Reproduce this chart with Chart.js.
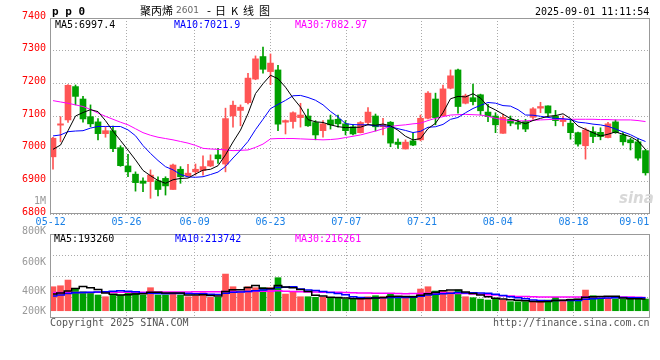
<!DOCTYPE html>
<html><head><meta charset="utf-8">
<script src="https://cdn.jsdelivr.net/npm/chart.js@4.4.1/dist/chart.umd.min.js"></script>
<style>
html,body{margin:0;padding:0;background:#fff;}
#wrap{position:relative;width:660px;height:360px;overflow:hidden;background:#fff;}
canvas{position:absolute;left:0;top:0;width:660px;height:360px;}
.t{position:absolute;white-space:pre;font-family:'DejaVu Sans Mono',monospace;font-size:10px;line-height:10px;z-index:5;}
.cjk{font-family:'Noto Sans CJK SC',sans-serif;font-size:11px;line-height:11px;}
.g{color:#999;text-align:right;width:40px;}
</style></head><body>
<div id="wrap">
<canvas id="price" width="660" height="360"></canvas>
<canvas id="vol" width="660" height="360"></canvas>
<div class="t" style="left:52px;top:6px;font-size:11px;line-height:11px;font-weight:bold;">p p 0</div>
<div class="t cjk" style="left:140px;top:5px;">聚丙烯</div>
<div class="t" style="left:176px;top:6px;font-family:'DejaVu Sans';font-size:9px;line-height:9px;color:#666;">2601</div>
<div class="t" style="left:207px;top:5px;font-family:'DejaVu Sans';font-size:11px;line-height:11px;">-</div>
<div class="t cjk" style="left:215px;top:5px;letter-spacing:5px;">日K线图</div>
<div class="t" style="left:535px;top:7px;">2025-09-01 11:11:54</div>
<div class="t" id="lg5" style="left:55px;top:19.5px;color:#000;"></div>
<div class="t" id="lg10" style="left:174px;top:19.5px;color:#0000ff;"></div>
<div class="t" id="lg30" style="left:295px;top:19.5px;color:#ff00ff;"></div>
<div class="t" id="vg5" style="left:54px;top:233.5px;color:#000;"></div>
<div class="t" id="vg10" style="left:175px;top:233.5px;color:#0000ff;"></div>
<div class="t" id="vg30" style="left:295px;top:233.5px;color:#ff00ff;"></div>
<div class="t g" style="left:6px;top:196px;">1M</div>
<div class="t g" style="left:6px;top:226px;">800K</div>
<div class="t g" style="left:6px;top:256.5px;">600K</div>
<div class="t g" style="left:6px;top:286px;">400K</div>
<div class="t g" style="left:6px;top:306px;">200K</div>
<div class="t" style="left:50px;top:317.5px;color:#555;">Copyright 2025 SINA.COM</div>
<div class="t" style="left:493px;top:317.5px;color:#555;">http://finance.sina.com.cn</div>
<div class="t" style="left:619px;top:191px;font-family:'DejaVu Sans';font-size:15px;line-height:15px;font-style:italic;font-weight:bold;color:#d8d8d8;">sina</div>
</div>
<script>
// ---------- data ----------
const dates = ['05-12','05-13','05-14','05-15','05-16','05-19','05-20','05-21','05-22','05-23','05-26','05-27','05-28','05-29','05-30',
'06-03','06-04','06-05','06-06','06-09','06-10','06-11','06-12','06-13','06-16','06-17','06-18','06-19','06-20','06-23','06-24','06-25','06-26','06-27','06-30',
'07-01','07-02','07-03','07-04','07-07','07-08','07-09','07-10','07-11','07-14','07-15','07-16','07-17','07-18','07-21','07-22','07-23','07-24','07-25','07-28','07-29','07-30','07-31',
'08-01','08-04','08-05','08-06','08-07','08-08','08-11','08-12','08-13','08-14','08-15','08-18','08-19','08-20','08-21','08-22','08-25','08-26','08-27','08-28','08-29','09-01'];
const open = [6975,7072,7088,7190,7152,7098,7082,7046,7055,7003, 6947,6922,6901,6899,6902,6909,6875,6937,6917,6929,
6933,6947,6981,6953,7100,7117,7141,7213,7282,7236, 7241,7081,7083,7095,7100,7080,7055,7088,7090,7076,
7067,7049,7080,7100,7067,7081,7020,6999,7024,7027, 7093,7152,7101,7185,7241,7139,7156,7165,7112,7100,
7047,7090,7080,7083,7096,7124,7131,7100,7083,7078, 7049,7009,7052,7050,7034,7082,7042,7027,7021,6994];
const high = [7035,7098,7196,7195,7160,7134,7092,7067,7069,7009, 6983,6929,6911,6935,6914,6914,6953,6945,6952,6953,
6978,6981,7001,7124,7146,7134,7231,7284,7311,7290, 7255,7088,7113,7139,7121,7086,7086,7103,7103,7086,
7073,7083,7126,7106,7093,7083,7030,7027,7047,7103, 7175,7170,7195,7241,7244,7167,7198,7167,7136,7110,
7106,7100,7090,7090,7126,7142,7131,7117,7100,7090, 7051,7063,7067,7064,7081,7088,7049,7032,7032,6998];
const low = [6937,7021,7080,7134,7081,7067,7027,7035,6991,6946, 6914,6870,6868,6848,6855,6858,6875,6894,6915,6919,
6919,6945,6955,6929,7066,7070,7137,7211,7231,7196, 7055,7045,7063,7066,7068,7027,7035,7060,7066,7042,
7042,7048,7073,7054,7042,7006,7001,6999,7009,7024, 7091,7073,7100,7183,7109,7137,7134,7103,7083,7049,
7047,7070,7060,7052,7090,7110,7101,7070,7070,7029, 7008,6968,7018,7027,7033,7047,7011,6996,6965,6919];
const close = [7032,7076,7194,7160,7091,7076,7046,7055,7000,6948, 6929,6896,6894,6919,6875,6886,6950,6914,6925,6937,
6945,6963,6969,7092,7133,7127,7216,7275,7243,7262, 7075,7086,7110,7103,7070,7042,7076,7073,7076,7055,
7045,7080,7112,7067,7073,7017,7013,7020,7011,7093, 7170,7095,7183,7223,7129,7162,7144,7116,7098,7073,
7096,7078,7075,7060,7122,7129,7109,7086,7088,7049, 7014,7057,7037,7037,7076,7049,7021,7018,6971,6926];
const ma5 = [6998,7011,7055,7100,7110.6,7119.4,7113.4,7085.6,7053.6,7025, 6995.6,6965.6,6933.4,6917.2,6902.6,6894,6904.8,6908.8,6910,6922.4,
6934.2,6936.8,6947.8,6981.2,7020.4,7056.8,7107.4,7168.6,7198.8,7224.6, 7214.2,7188.2,7155.2,7127.2,7088.8,7082.2,7080.2,7072.8,7067.4,7064.4,
7065,7065.8,7073.6,7071.8,7075.4,7069.8,7056.4,7038,7026.8,7030.8, 7061.4,7077.8,7110.4,7152.8,7160,7158.4,7168.2,7154.8,7129.8,7118.6,
7105.4,7092.2,7084,7076.4,7086.2,7092.8,7099,7101.2,7106.8,7092.2, 7069.2,7058.8,7049,7038.8,7044.2,7051.2,7044,7036.6,7023.4,6997.4];
const ma10 = [7039,7042,7052,7054,7055,7063,7068,7068,7068,7067.8, 7057.5,7039.5,7009.5,6985.4,6963.8,6944.8,6935.2,6921.1,6913.6,6912.5,
6914.1,6920.8,6928.3,6945.6,6971.4,6995.5,7022.1,7058.2,7090,7122.5, 7135.5,7147.8,7161.9,7163,7156.7,7148.2,7134.2,7114,7097.3,7076.6,
7073.6,7073,7073.2,7069.6,7069.9,7067.4,7061.1,7055.8,7049.3,7053.1, 7065.6,7067.1,7074.2,7089.8,7095.4,7109.9,7123,7132.6,7141.3,7139.3,
7131.9,7130.2,7119.4,7103.1,7102.4,7099.1,7095.6,7092.6,7091.6,7089.2, 7081,7078.9,7075.1,7072.8,7068.2,7060.2,7051.4,7042.8,7031.1,7021.9];
const ma30 = [7147,7143,7139,7134,7129,7120,7109,7099,7090,7081, 7073,7061,7049,7041,7035,7031,7027,7022,7017,7010,
7001,6999,6998,6996,6994,6995,6996,7004,7014,7030, 7031,7031,7031,7030,7029,7028,7027,7028,7030,7034,
7038,7042,7048,7054,7061,7068,7071,7073,7076,7078, 7086,7093,7098,7103,7104,7105,7104,7103,7099,7093,
7089,7086,7085,7085,7087,7088,7089,7090,7090,7090, 7090,7090,7090,7089,7089,7088,7088,7088,7086,7082.97];
// volume, thousand lots
const volume = [396,412,506,370,314,297,259,231,259,259, 314,314,259,380,259,259,297,259,231,242,
297,221,221,605,396,297,396,380,380,380, 545,275,314,231,231,221,221,205,205,192,
192,192,231,248,231,275,205,205,242,358, 396,325,325,314,341,231,215,192,176,205,
176,149,149,149,139,149,176,221,176,192, 192,341,248,205,205,195,190,188,200,193];
const volMa5 = [275,292,325,368,400,380,349,294,272,261, 264,275,281,305,305,294,291,291,261,258,
265,250,242,317,348,348,383,415,370,367, 416,392,379,349,319,254,244,222,217,209,
203,197,202,211,219,235,238,233,232,257, 281,305,329,344,340,307,285,259,231,204,
193,180,171,166,152,147,152,167,172,183, 191,224,230,236,238,239,209,197,196,193.26];
const volMa10 = [242,259,283,298,300,305,310,315,320,330, 322,312,288,289,283,279,283,286,283,281,
280,270,267,289,303,307,317,329,344,357, 382,388,397,359,343,335,318,300,283,264,
229,220,212,214,214,219,218,218,221,238, 258,272,281,288,299,294,295,294,287,272,
250,232,215,198,178,170,166,169,169,168, 169,188,198,204,211,215,217,213,216,213.742];
const volMa30 = [300,300,301,301,302,302,303,303,304,304, 305,305,306,306,307,308,309,310,311,312,
313,314,315,316,317,318,319,320,322,323, 328,323,317,312,310,307,306,305,303,301,
297,293,292,287,287,287,284,282,283,286, 290,293,297,287,285,283,277,271,264,258,
246,241,236,233,230,228,226,227,226,226, 226,231,231,230,229,226,226,225,224,216.261];
const tickDates = ['05-12','05-26','06-09','06-23','07-07','07-21','08-04','08-18','09-01'];
const priceMin = 6800, priceMax = 7400, priceStep = 100;

// ---------- style ----------
const RED = '#ff5555', GREEN = '#00a000';
const FONT = "'DejaVu Sans Mono', monospace";
const X_MIN = -0.4, X_MAX = 79.6;              // plot spans 600px, 7.5px per day
const gridPos = tickDates.map(d => -0.31 + 1.0104 * dates.indexOf(d));
const tickText = tickDates.map((d, k) => k === tickDates.length - 1 ? d + '     ' : d);
const candleColor = close.map((c, i) => c >= open[i] ? RED : GREEN);
const idx = dates.map((d, i) => i);

document.getElementById('lg5').textContent = 'MA5:' + ma5[ma5.length-1].toFixed(1);
document.getElementById('lg10').textContent = 'MA10:' + ma10[ma10.length-1].toFixed(1);
document.getElementById('lg30').textContent = 'MA30:' + ma30[ma30.length-1].toFixed(2);
document.getElementById('vg5').textContent = 'MA5:' + Math.round(volMa5[volMa5.length-1]*1000);
document.getElementById('vg10').textContent = 'MA10:' + Math.round(volMa10[volMa10.length-1]*1000);
document.getElementById('vg30').textContent = 'MA30:' + Math.round(volMa30[volMa30.length-1]*1000);

const frame = {id:'frame', afterDatasetsDraw(chart){
  const a = chart.chartArea, c = chart.ctx;
  c.save(); c.strokeStyle = '#999'; c.lineWidth = 1;
  c.strokeRect(Math.round(a.left)+0.5, Math.round(a.top)+0.5, Math.round(a.right-a.left)-1, Math.round(a.bottom-a.top)-1);
  c.restore();
}};

function lineDs(vals, color, w, stepped){
  return {type:'line', data: vals.map((v,i)=>({x:i, y:v})), borderColor: color, borderWidth: w,
    pointRadius: 0, tension: 0, stepped: stepped || false, order: 0, fill: false};
}
function xScale(showLabels, h){
  return {type:'linear', min: X_MIN, max: X_MAX, offset:false,
    afterBuildTicks(s){ s.ticks = gridPos.map(v => ({value: v})); },
    afterFit(s){ s.height = h; s.paddingLeft = 0; s.paddingRight = 0; },
    grid:{color:'#aaa', lineWidth:1, drawTicks:false, offset:false},
    border:{display:false, dash:[1,2]},
    ticks:{display: showLabels, autoSkip:false, maxRotation:0, minRotation:0, padding:2,
      color:'#1a80e6', font:{family:FONT, size:10},
      callback:(v, i) => tickText[i]}
  };
}

Chart.defaults.font.family = FONT;

new Chart(document.getElementById('price'), {
  type:'bar',
  data:{datasets:[
    lineDs(ma5, '#000000', 1), lineDs(ma10, '#0000ff', 1), lineDs(ma30, '#ff00ff', 1),
    {type:'bar', data: idx.map(i=>({x:i, y:[open[i], close[i]]})), backgroundColor: candleColor,
      barThickness: 6, grouped:false, minBarLength:1, order:1},
    {type:'bar', data: idx.map(i=>({x:i, y:[low[i], high[i]]})), backgroundColor: candleColor,
      barThickness: 1, grouped:false, order:2}
  ]},
  options:{responsive:false, animation:false, events:[],
    layout:{padding:{left:0, right:10, top:18, bottom:0}},
    plugins:{legend:{display:false}, tooltip:{enabled:false}},
    scales:{
      x: xScale(true, 146),
      y:{type:'linear', min: priceMin, max: priceMax,
        afterFit(s){ s.width = 50; s.paddingTop = 0; s.paddingBottom = 0; },
        grid:{color:'#aaa', drawTicks:false}, border:{display:false, dash:[1,2]},
        ticks:{stepSize: priceStep, color:'#ff0000', padding:4, labelOffset:-2, font:{family:FONT, size:10},
          callback: v => String(v)}}
    }
  },
  plugins:[frame]
});

const V_MIN = -120, V_MAX = 1266;
new Chart(document.getElementById('vol'), {
  type:'bar',
  data:{datasets:[
    lineDs(volMa5, '#000000', 1.5, 'middle'), lineDs(volMa10, '#0000ff', 1.5, 'middle'), lineDs(volMa30, '#ff00ff', 1.5, 'middle'),
    {type:'bar', data: idx.map(i=>({x:i, y: volume[i]})), backgroundColor: candleColor,
      barThickness: 6, grouped:false, order:1}
  ]},
  options:{responsive:false, animation:false, events:[],
    layout:{padding:{left:0, right:10, top:234, bottom:0}},
    plugins:{legend:{display:false}, tooltip:{enabled:false}},
    scales:{
      x: xScale(false, 42),
      y:{type:'linear', min: V_MIN, max: V_MAX,
        afterBuildTicks(s){ s.ticks = [1,2,3].map(k => ({value: V_MIN + k*(V_MAX-V_MIN)/4})); },
        afterFit(s){ s.width = 50; s.paddingTop = 0; s.paddingBottom = 0; },
        grid:{color:'#aaa', drawTicks:false}, border:{display:false, dash:[1,2]},
        ticks:{display:false}}
    }
  },
  plugins:[frame]
});
</script>
</body></html>
